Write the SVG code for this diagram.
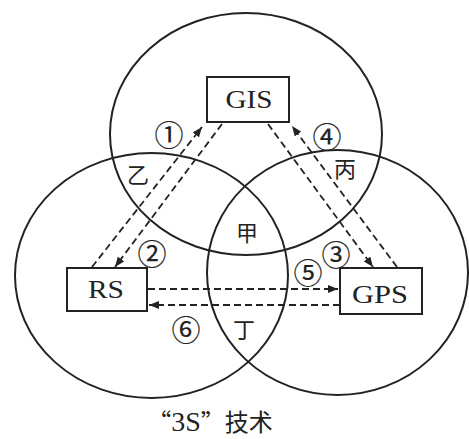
<svg xmlns="http://www.w3.org/2000/svg" width="469" height="439" viewBox="0 0 469 439">
<style>
.ring{fill:none;stroke:#222;stroke-width:2}
.box{fill:#fff;stroke:#222;stroke-width:2}
.lbl{font-family:"Liberation Serif",serif;font-size:25px;fill:#222;text-anchor:middle}
.num{font-family:"Noto Sans CJK SC",sans-serif;font-size:29px;fill:#222;text-anchor:middle;dominant-baseline:central;stroke:#222;stroke-width:0.2}
.cn{font-family:"Noto Sans CJK SC",sans-serif;font-size:22px;fill:#222;text-anchor:middle;dominant-baseline:central}
.dash{fill:none;stroke:#222;stroke-width:1.8;stroke-dasharray:7 4;marker-end:url(#ah)}
.cap{font-family:"Noto Sans CJK SC",sans-serif;font-size:24px;fill:#222}
.capl{font-family:"Liberation Serif",serif;font-size:28px}
</style>
<defs>
<marker id="ah" markerUnits="userSpaceOnUse" markerWidth="10" markerHeight="8" refX="10" refY="4" orient="auto">
<path d="M0,0 L10,4 L0,8 z" fill="#222"/>
</marker>
</defs>
<rect width="469" height="439" fill="#fff"/>
<g id="circles">
<ellipse id="c-top" class="ring" cx="246" cy="134" rx="136" ry="121"/>
<ellipse id="c-left" class="ring" cx="151.5" cy="275.5" rx="136.5" ry="122.5"/>
<ellipse id="c-right" class="ring" cx="337.5" cy="272.5" rx="130.5" ry="122.5"/>
</g>
<g id="connectors">
<line class="dash" x1="92" y1="267" x2="202" y2="127"/>
<line class="dash" x1="222" y1="124" x2="115" y2="267"/>
<line class="dash" x1="268" y1="124" x2="373" y2="267"/>
<line class="dash" x1="397" y1="267" x2="292" y2="126"/>
<line class="dash" x1="148" y1="289" x2="338" y2="289"/>
<line class="dash" x1="340" y1="305" x2="149" y2="305"/>
</g>
<g id="node-gis">
<rect class="box" x="207" y="77" width="82" height="45"/>
<text class="lbl" x="249" y="108" textLength="47" lengthAdjust="spacingAndGlyphs">GIS</text>
</g>
<g id="node-rs">
<rect class="box" x="67" y="268" width="80" height="43"/>
<text class="lbl" x="106" y="298" textLength="36" lengthAdjust="spacingAndGlyphs">RS</text>
</g>
<g id="node-gps">
<rect class="box" x="340" y="268" width="82" height="46"/>
<text class="lbl" x="380" y="303" textLength="56" lengthAdjust="spacingAndGlyphs">GPS</text>
</g>
<g id="labels">
<text class="num" x="169" y="133">①</text>
<text class="num" x="152" y="252">②</text>
<text class="num" x="336" y="253">③</text>
<text class="num" x="327" y="135">④</text>
<text class="num" x="308" y="271">⑤</text>
<text class="num" x="186" y="328">⑥</text>
<text class="cn" x="138" y="173">乙</text>
<text class="cn" x="345" y="167">丙</text>
<text class="cn" x="247" y="231">甲</text>
<text class="cn" x="244" y="328">丁</text>
</g>
<g id="caption">
<text class="cap" x="210" y="431" text-anchor="middle">“<tspan class="capl">3S</tspan>”技术</text>
</g>
</svg>
